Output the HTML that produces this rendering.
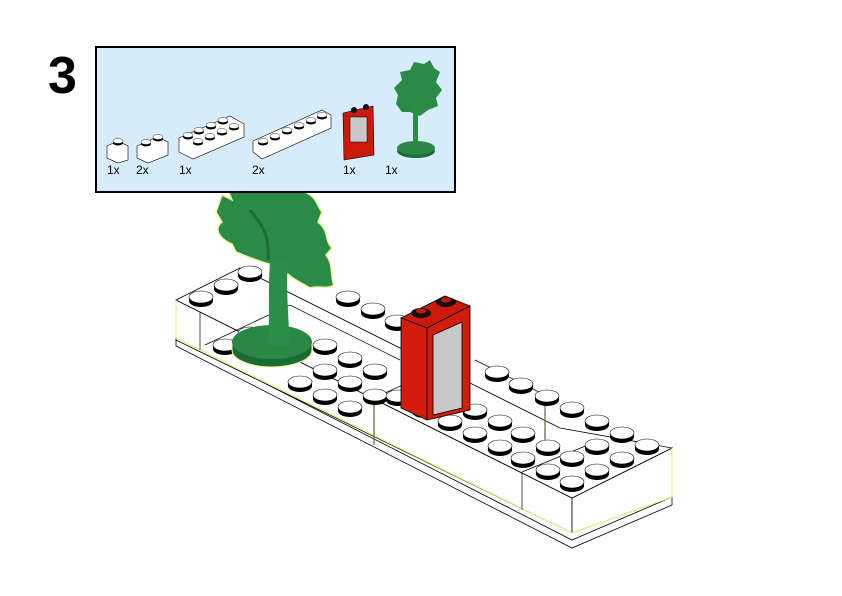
<!DOCTYPE html>
<html><head><style>
html,body{margin:0;padding:0;background:#fff;}
svg{display:block;}
text{font-family:"Liberation Sans",sans-serif;}
</style></head><body>
<svg width="842" height="596" viewBox="0 0 842 596" xmlns="http://www.w3.org/2000/svg">
<defs>
<g id="s"><ellipse cx="0" cy="4" rx="12" ry="6" fill="#000"/><rect x="-12" y="0" width="24" height="4" fill="#000"/><ellipse cx="0" cy="0" rx="12" ry="6" fill="#fff" stroke="#000" stroke-width="0.6"/></g>
<g id="ss"><ellipse cx="0" cy="2" rx="5" ry="2.5" fill="#000"/><ellipse cx="0" cy="0" rx="5" ry="2.5" fill="#fff" stroke="#000" stroke-width="0.4"/></g>
</defs>
<text x="48" y="93" font-size="52" font-weight="bold">3</text>

<!-- main model -->
<g stroke="#000" stroke-width="0.8" fill="#fff">
<polygon points="176,338 572,540 672,497 672,505 572,548 176,346"/>
<polygon points="176,300 572,498 572,533 176,340"/>
<polygon points="572,498 672,448 672,497 572,533"/>
<polygon points="176,300 240,268 560,428 672,448 572,498"/>
</g>
<g stroke="#e6f08a" stroke-width="1.2" fill="none">
<polyline points="176,300 176,338 572,533 672,497 672,448"/>
<polyline points="374,398 374,445"/>
<polyline points="545,412 545,450"/>
</g>
<g stroke="#000" stroke-width="0.7" fill="none">
<line x1="200" y1="312" x2="200" y2="350"/>
<line x1="374" y1="398" x2="374" y2="445"/>
<line x1="522" y1="472" x2="522" y2="510"/>
<polyline points="205,345 290,305 400,360"/>
<polyline points="475,360 545,395 545,440"/>
<line x1="374" y1="398" x2="440" y2="368"/>
<line x1="522" y1="472" x2="600" y2="440"/>
</g>
<g>
<use href="#s" x="201" y="297"/><use href="#s" x="226" y="285"/><use href="#s" x="250" y="272"/>
<use href="#s" x="348" y="297"/><use href="#s" x="373" y="309"/><use href="#s" x="397" y="321"/>
<use href="#s" x="225" y="345"/><use href="#s" x="250" y="333"/>
<use href="#s" x="325" y="345"/><use href="#s" x="350" y="358"/>
<use href="#s" x="300" y="382"/><use href="#s" x="325" y="370"/><use href="#s" x="350" y="382"/><use href="#s" x="375" y="370"/>
<use href="#s" x="325" y="395"/><use href="#s" x="350" y="407"/><use href="#s" x="375" y="395"/>
<use href="#s" x="398" y="396"/><use href="#s" x="424" y="408"/><use href="#s" x="450" y="421"/><use href="#s" x="475" y="433"/><use href="#s" x="500" y="446"/><use href="#s" x="523" y="458"/><use href="#s" x="548" y="470"/>
<use href="#s" x="475" y="410"/><use href="#s" x="500" y="421"/><use href="#s" x="523" y="433"/><use href="#s" x="548" y="446"/>
<use href="#s" x="497" y="372"/><use href="#s" x="521" y="384"/><use href="#s" x="547" y="396"/>
<use href="#s" x="572" y="408"/><use href="#s" x="597" y="421"/><use href="#s" x="622" y="433"/><use href="#s" x="647" y="445"/>
<use href="#s" x="572" y="457"/><use href="#s" x="597" y="445"/><use href="#s" x="622" y="458"/>
<use href="#s" x="572" y="482"/><use href="#s" x="597" y="470"/>
</g>

<!-- tree -->
<path d="M222,195 L232,200 L228,190 L300,190 C318,196 316,205 322,212 L318,222 C330,232 324,240 332,248 L326,255 C334,265 330,278 334,285 C326,290 318,285 310,288 C300,282 290,278 282,268 C268,264 250,258 236,252 L232,244 C218,238 214,228 222,222 L216,212 Z" fill="#2b8a45" stroke="#eef59a" stroke-width="1.5"/>
<path d="M250,210 C262,225 270,235 268,260" stroke="#1f6d34" stroke-width="3" fill="none"/>
<path d="M232,350 a40,17 0 0 0 80,0 v-8 h-80 z" fill="#1d6b34" stroke="#eef59a" stroke-width="1"/>
<ellipse cx="272" cy="342" rx="40" ry="17" fill="#2a8744"/>
<path d="M268,345 C270,310 268,285 270,262 L288,262 C286,285 288,310 290,345 Z" fill="#2d8e48"/>

<!-- red brick -->
<g stroke="#000" stroke-width="0.8">
<polygon points="401,318 445,296 470,306 427,328" fill="#cc1a0a"/>
<polygon points="401,318 427,328 427,420 401,408" fill="#d41c0c"/>
<polygon points="427,328 470,306 470,410 427,420" fill="#d41c0c"/>
<polygon points="433,335 462,322 462,408 433,415" fill="#c8c8c8"/>
</g>
<ellipse cx="421" cy="313" rx="10" ry="5" fill="#111"/><ellipse cx="421" cy="311" rx="5" ry="2.5" fill="#c41a0a"/>
<ellipse cx="446" cy="302" rx="10" ry="5" fill="#111"/><ellipse cx="446" cy="300" rx="5" ry="2.5" fill="#c41a0a"/>

<!-- parts box -->
<rect x="96" y="47" width="359" height="145" fill="#d6ecfb" stroke="#000" stroke-width="2"/>
<g stroke="#000" stroke-width="0.6" fill="#fff">
<polygon points="107,146 118,141 128,146 128,160 118,163 107,158"/>
<polygon points="137,146 157,137 168,142 168,155 148,163 137,158"/>
<polygon points="179,138 230,116 244,124 244,137 193,159 179,152"/>
<polygon points="253,141 322,110 331,115 331,128 262,159 253,152"/>
</g>
<use href="#ss" x="118" y="141"/>
<use href="#ss" x="146" y="142"/><use href="#ss" x="158" y="137"/>
<use href="#ss" x="188" y="135"/><use href="#ss" x="199" y="130"/><use href="#ss" x="211" y="125"/><use href="#ss" x="223" y="120"/>
<use href="#ss" x="198" y="141"/><use href="#ss" x="210" y="136"/><use href="#ss" x="222" y="131"/><use href="#ss" x="234" y="126"/>
<use href="#ss" x="263" y="141"/><use href="#ss" x="275" y="136"/><use href="#ss" x="287" y="130"/><use href="#ss" x="299" y="125"/><use href="#ss" x="311" y="120"/><use href="#ss" x="322" y="115"/>
<polygon points="343,113 373,106 374,155 344,160" fill="#cc1a0a" stroke="#000" stroke-width="0.6"/>
<rect x="350" y="117" width="17" height="25" fill="#c8c8c8" stroke="#000" stroke-width="0.5"/>
<circle cx="354" cy="110" r="3" fill="#111"/><circle cx="366" cy="107" r="3" fill="#111"/>
<path d="M398,95 L394,88 L402,80 L400,72 L410,70 L414,62 L424,64 L430,60 L434,68 L440,72 L436,82 L442,90 L436,98 L438,106 L428,110 L420,116 L410,112 L402,112 L396,104 Z" fill="#2b8a45"/>
<rect x="413" y="108" width="5" height="38" fill="#2d8e48"/>
<ellipse cx="416" cy="151" rx="19" ry="7" fill="#1d6b34"/>
<ellipse cx="416" cy="148" rx="19" ry="7" fill="#2a8744"/>
<g font-size="12" fill="#000">
<text x="107" y="174">1x</text><text x="136" y="174">2x</text><text x="179" y="174">1x</text>
<text x="252" y="174">2x</text><text x="343" y="174">1x</text><text x="385" y="174">1x</text>
</g>
</svg>
</body></html>
